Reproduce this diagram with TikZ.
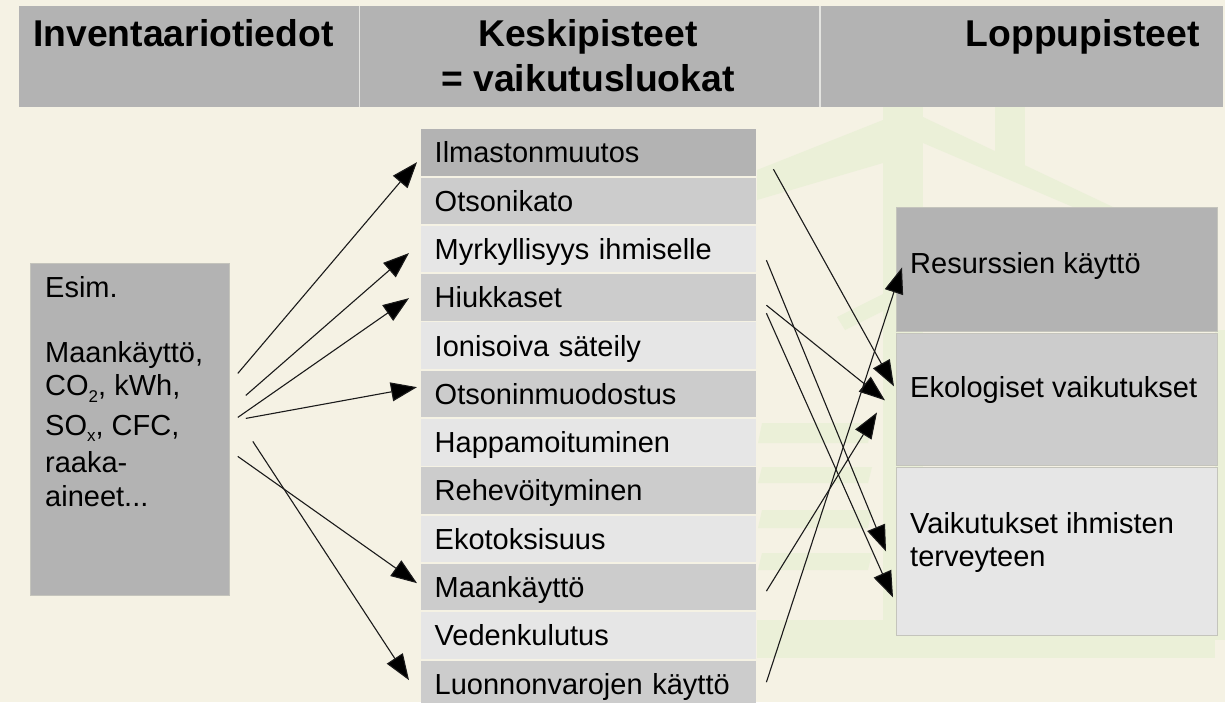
\documentclass[tikz,border=0pt]{standalone}
\usepackage{fontspec}
\setmainfont{Liberation Sans}
\usetikzlibrary{arrows.meta}
\definecolor{bg}{HTML}{F5F2E4}
\definecolor{wm}{HTML}{EBF0D8}
\definecolor{gdark}{HTML}{B3B3B3}
\definecolor{gmid}{HTML}{CCCCCC}
\definecolor{glight}{HTML}{E6E6E6}
\definecolor{edgec}{HTML}{C4C4BC}
\definecolor{divc}{HTML}{E4E4E0}
\definecolor{linec}{HTML}{1A1A1A}
\newcommand{\lowsub}[1]{\raisebox{-6.5pt}{\fontsize{17}{17}\selectfont #1}}
\tikzset{
  hdr/.style={fill=gdark, draw=none, minimum height=101pt, anchor=north west, inner sep=0pt},
  hdrtext/.style={inner sep=0pt, font=\fontsize{37.3}{45}\selectfont\bfseries},
  rowbox/.style={minimum width=335.5pt, minimum height=46.5pt, anchor=north west, inner xsep=14pt,
    text width=307.5pt, align=left, text height=20.8pt, text depth=0pt, font=\fontsize{29}{33}\selectfont},
  rbox/.style={minimum width=321pt, anchor=north west, inner sep=0pt, draw=edgec, line width=0.8pt},
  txt/.style={inner sep=0pt, font=\fontsize{29}{32.5}\selectfont},
  arr/.style={-{Triangle[length=26pt,width=19pt,fill=black]}, line width=1.1pt, draw=linec},
  wmark/.style={fill=wm, draw=none}
}
\begin{document}
\begin{tikzpicture}[x=1pt,y=-1pt]
\useasboundingbox (0,0) rectangle (1225,702);
\fill[bg] (0,0) rectangle (1225,702);
\clip (0,0) rectangle (1225,702);
% faint watermark
\fill[wmark] (883,107) rectangle (923,640);
\fill[wmark] (995,107) rectangle (1025,165);
\fill[wmark] (757,170) -- (883,120) -- (883,163) -- (757,200) -- cycle;
\fill[wmark] (923,117) -- (1113,207) -- (1073,207) -- (923,143) -- cycle;
\fill[wmark] (757,620) rectangle (1215,658);
\fill[wmark] (1215,330) rectangle (1225,640);
\fill[wmark] (762,423) -- (872,423) -- (868,443) -- (758,443) -- cycle;
\fill[wmark] (762,467) -- (872,467) -- (868,483) -- (758,483) -- cycle;
\fill[wmark] (762,510) -- (872,510) -- (868,528) -- (758,528) -- cycle;
\fill[wmark] (762,553) -- (872,553) -- (868,570) -- (758,570) -- cycle;
\fill[wmark] (837,317) -- (905,283) -- (905,300) -- (845,330) -- cycle;

% header band
\node[hdr, minimum width=340pt] (h1) at (19,6) {};
\node[hdr, minimum width=460pt] (h2) at (359.5,6) {};
\node[hdr, minimum width=403pt] (h3) at (819.5,6) {};
\draw[divc, line width=1.2pt] (h1.north east) -- (h1.south east);
\draw[divc, line width=1.2pt] (h2.north east) -- (h2.south east);
\node[hdrtext, anchor=base west] (t1) at (33,46.7) {Inventaariotiedot};
\node[hdrtext, anchor=base] (t2a) at (588,46.7) {Keskipisteet};
\node[hdrtext, anchor=base] (t2b) at (588,91.5) {= vaikutusluokat};
\node[hdrtext, anchor=base east] (t3) at (1200,46.7) {Loppupisteet};

% left box
\node[fill=gdark, draw=edgec, line width=0.8pt, minimum width=199pt, minimum height=332pt,
      anchor=north west, inner sep=0pt] (inv) at (30,263) {};
\node[txt, anchor=north west, align=left, font=\fontsize{29}{33.5}\selectfont] (invtext) at (45,276.5)
  {Esim.\\[31pt]Maankäyttö,\\CO\lowsub{2}, kWh,\\[6pt]SO\lowsub{x}, CFC,\\[4pt]raaka-\\aineet...};

% middle list
\foreach \i/\t/\c in {0/Ilmastonmuutos/gdark, 1/Otsonikato/gmid, 2/Myrkyllisyys ihmiselle/glight,
  3/Hiukkaset/gmid, 4/Ionisoiva säteily/glight, 5/Otsoninmuodostus/gmid, 6/Happamoituminen/glight,
  7/Rehevöityminen/gmid, 8/Ekotoksisuus/glight, 9/Maankäyttö/gmid, 10/Vedenkulutus/glight,
  11/Luonnonvarojen käyttö/gmid}
  \node[rowbox, fill=\c] (r\i) at (420.5,{129+48.3*\i}) {\t};

% right boxes
\node[rbox, fill=gdark, minimum height=124pt] (res) at (896,207) {};
\node[rbox, fill=gmid, minimum height=132pt] (eko) at (896,333) {};
\node[rbox, fill=glight, minimum height=168pt] (ter) at (896,467) {};
\node[txt, anchor=base west] (restext) at (910,273) {Resurssien käyttö};
\node[txt, anchor=base west] (ekotext) at (910,397.3) {Ekologiset vaikutukset};
\node[txt, anchor=north west, align=left] (tertext) at (910,512.5) {Vaikutukset ihmisten\\terveyteen};

% arrows inventory -> midpoints
\draw[arr] ([shift={(8,-56)}]inv.east) -- ([shift={(-3.5,9.7)}]r0.west);
\draw[arr] ([shift={(16,-34)}]inv.east) -- ([shift={(-11.5,4)}]r2.west);
\draw[arr] ([shift={(8,-12)}]inv.east) -- ([shift={(-11.5,0.8)}]r3.west);
\draw[arr] ([shift={(16,-11)}]inv.east) -- ([shift={(-3.5,-6.8)}]r5.west);
\draw[arr] ([shift={(8,27)}]inv.east) -- ([shift={(-3.5,-4)}]r9.west);
\draw[arr] ([shift={(23,12)}]inv.east) -- ([shift={(-11.5,-3.6)}]r11.west);

% arrows midpoints -> endpoints
\draw[arr] ([shift={(17,16.75)}]r0.east) -- ([shift={(-2,-13)}]eko.west);
\draw[arr] ([shift={(10,11.15)}]r2.east) -- ([shift={(-10,0)}]ter.west);
\draw[arr] ([shift={(10,7.85)}]r3.east) -- ([shift={(-11,1)}]eko.west);
\draw[arr] ([shift={(10,15.85)}]r3.east) -- ([shift={(-3,46)}]ter.west);
\draw[arr] ([shift={(10,4)}]r9.east) -- ([shift={(-19,13)}]eko.west);
\draw[arr] ([shift={(10,-1.55)}]r11.east) -- ([shift={(6,-2)}]res.west);
\end{tikzpicture}
\end{document}
